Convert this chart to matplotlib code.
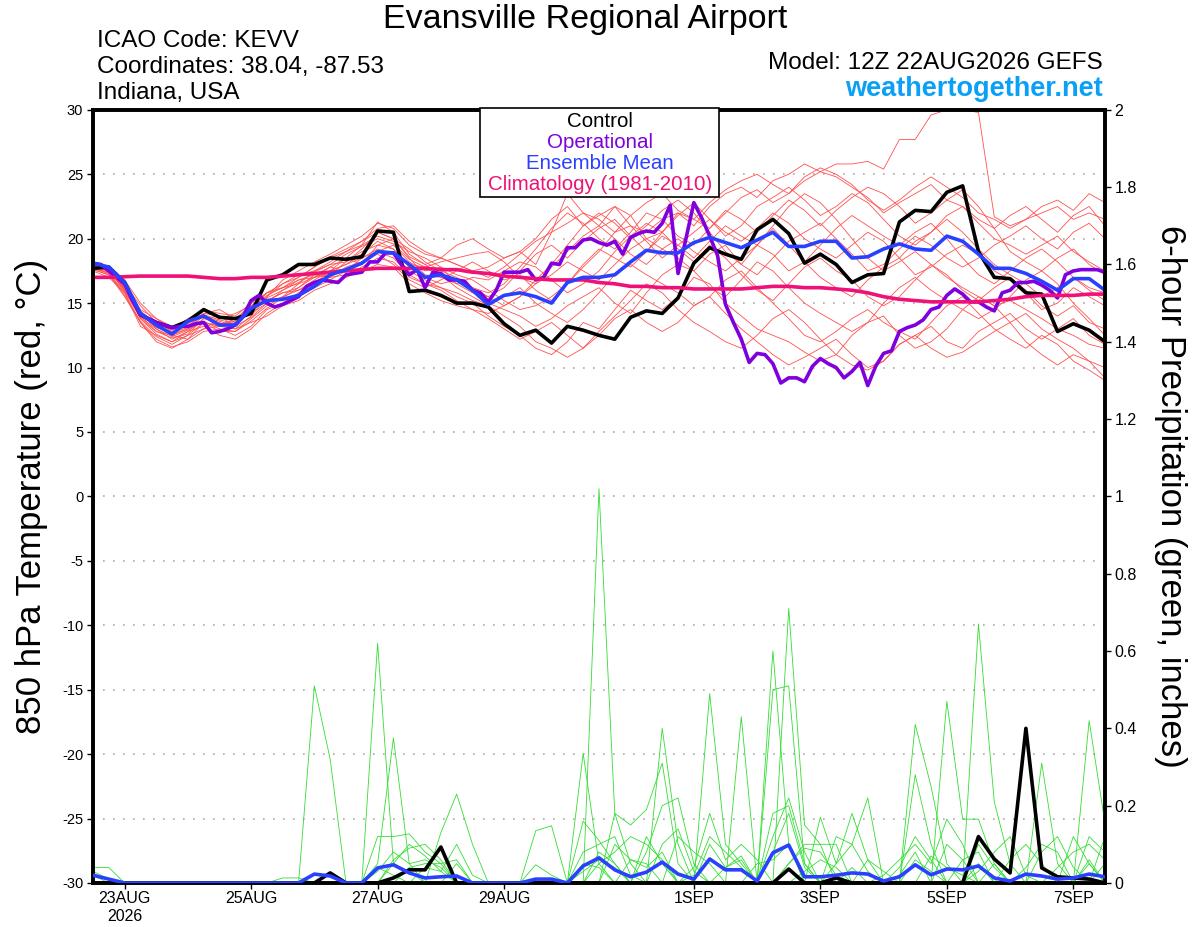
import numpy as np
import matplotlib
matplotlib.use("Agg")
import matplotlib.pyplot as plt
from matplotlib.patches import Rectangle

plt.rcParams['font.family'] = ['Liberation Sans', 'DejaVu Sans']
plt.rcParams['axes.unicode_minus'] = False

# 6-hourly steps from 12Z 22AUG2026 (hours), operational run is 3-hourly
hours = np.arange(65) * 6
op_hours = np.arange(129) * 3

tick_hours = [12, 60, 108, 156, 228, 276, 324, 372]
tick_labels = ["23AUG\n2026", "25AUG", "27AUG", "29AUG", "1SEP", "3SEP", "5SEP", "7SEP"]

# 850 hPa temperature (C)
control_t = [17.7, 17.8, 16.6, 14.1, 13.5, 13.1, 13.6, 14.5, 13.9, 13.8, 14.2, 16.8, 17.2,
             18.0, 18.0, 18.5, 18.4, 18.6, 20.6, 20.5, 15.9, 16.0, 15.6, 15.0, 15.0, 14.7,
             13.4, 12.5, 12.9, 11.9, 13.2, 12.9, 12.5, 12.2, 13.9, 14.4, 14.2, 15.4, 18.1,
             19.3, 18.8, 18.4, 20.7, 21.5, 20.4, 18.1, 18.8, 18.0, 16.6, 17.2, 17.3, 21.3,
             22.2, 22.1, 23.6, 24.1, 19.0, 17.0, 16.9, 15.8, 15.7, 12.8, 13.4, 12.9, 12.0]

mean_t = [18.1, 17.8, 16.6, 14.2, 13.3, 12.6, 13.6, 14.0, 13.3, 13.3, 14.6, 15.2, 15.3,
          15.6, 16.3, 17.2, 17.6, 18.1, 19.0, 18.9, 18.0, 17.0, 17.2, 16.8, 16.0, 14.9,
          15.6, 15.8, 15.5, 15.0, 16.6, 17.0, 17.0, 17.2, 18.2, 19.1, 18.9, 18.9, 19.7,
          20.1, 19.7, 19.3, 19.9, 20.5, 19.4, 19.4, 19.8, 19.8, 18.5, 18.6, 19.2, 19.6,
          19.2, 19.1, 20.2, 19.8, 18.8, 17.7, 17.7, 17.3, 16.7, 16.0, 16.9, 16.9, 16.0]

clim_t = [17.0, 17.0, 17.05, 17.1, 17.1, 17.1, 17.1, 17.0, 16.9, 16.9, 17.0, 17.0, 17.1,
          17.2, 17.3, 17.4, 17.5, 17.6, 17.7, 17.7, 17.7, 17.7, 17.6, 17.6, 17.4, 17.3,
          17.1, 17.0, 16.9, 16.8, 16.8, 16.8, 16.6, 16.5, 16.3, 16.3, 16.2, 16.2, 16.1,
          16.1, 16.1, 16.1, 16.2, 16.3, 16.3, 16.2, 16.2, 16.1, 16.0, 15.8, 15.5, 15.3,
          15.2, 15.1, 15.1, 15.1, 15.1, 15.2, 15.3, 15.5, 15.6, 15.6, 15.6, 15.7, 15.7]

oper_t = [18.1, 18.0, 17.5, 17.0, 16.5, 15.2, 14.1, 13.8, 13.5, 13.3, 13.1, 13.2, 13.2,
          13.4, 13.5, 12.7, 12.8, 13.0, 13.3, 14.0, 15.2, 15.6, 15.0, 14.7, 14.9, 15.2,
          15.5, 16.3, 16.6, 16.8, 16.7, 16.6, 17.2, 17.3, 17.4, 18.2, 18.2, 18.9, 18.9,
          18.0, 17.2, 17.6, 16.2, 17.4, 17.3, 16.8, 16.8, 16.7, 16.0, 15.8, 15.1, 16.0,
          17.4, 17.4, 17.4, 17.6, 16.8, 17.0, 18.1, 18.0, 19.3, 19.3, 19.9, 20.0, 19.7,
          19.5, 19.8, 18.8, 20.1, 20.4, 20.6, 20.5, 21.2, 22.6, 17.3, 20.0, 22.8, 21.6,
          20.2, 18.7, 14.9, 13.5, 12.2, 10.4, 11.1, 11.0, 10.3, 8.8, 9.2, 9.2, 8.9,
          10.1, 10.7, 10.3, 10.0, 9.2, 9.7, 10.4, 8.6, 10.1, 11.1, 11.3, 12.8, 13.1,
          13.3, 13.7, 14.5, 14.7, 15.6, 16.1, 15.7, 15.1, 15.1, 14.7, 14.4, 15.8, 16.0,
          16.6, 16.6, 16.7, 16.4, 16.0, 15.4, 17.2, 17.5, 17.6, 17.6, 17.6, 17.4]

# ensemble members, temperature
t_m01 = [18.0, 17.6, 16.0, 13.8, 12.8, 12.5, 13.0, 14.0, 13.6, 13.2, 14.5,
         15.8, 16.5, 17.0, 17.8, 18.6, 19.2, 19.8, 20.5, 20.0, 18.6,
         18.0, 18.5, 19.5, 20.0, 19.2, 18.5, 19.0, 20.0, 21.5, 22.5,
         21.0, 21.8, 22.5, 21.0, 20.5, 21.5, 22.0, 21.0, 22.5, 23.5,
         24.0, 23.2, 24.5, 25.0, 25.8, 25.2, 25.8,
         25.8, 26.0, 25.4, 27.7, 27.7, 29.6, 30.0, 30.0, 29.8,
         21.7, 21.0, 21.5, 22.0, 22.5, 21.5, 22.0, 21.5]
t_m02 = [17.8, 17.5, 16.2, 14.3, 13.0, 12.2, 12.8, 13.8, 13.5, 13.0, 14.0,
         15.5, 16.8, 17.5, 18.2, 18.8, 19.5, 20.2, 21.2, 20.8, 19.5,
         18.8, 18.5, 18.0, 17.5, 17.8, 18.5, 19.0, 18.0, 20.5, 23.5,
         22.0, 21.0, 22.5, 21.8, 20.0, 20.5, 22.0, 21.5, 20.8, 22.0,
         23.2, 23.8, 22.8, 23.5, 24.5, 25.2, 24.8, 24.0, 23.2, 22.0,
         22.8, 23.5, 24.2, 23.0, 22.5, 21.5, 20.8, 21.8, 22.5, 21.5,
         20.5, 21.8, 22.5, 21.0]
t_m03 = [17.6, 17.2, 15.5, 13.5, 12.2, 11.6, 12.0, 12.8, 13.0, 12.5, 13.2,
         14.5, 15.0, 15.8, 16.5, 17.0, 17.2, 17.8, 18.5, 18.2, 17.0,
         16.5, 16.2, 15.5, 15.0, 14.0, 13.2, 12.5, 11.5, 11.0, 12.0,
         13.5, 13.0, 14.5, 16.0, 15.2, 14.5, 15.5, 17.0, 16.5, 15.0,
         14.0, 13.0, 12.5, 12.0, 11.2, 10.5, 11.0, 12.5, 13.5, 14.0,
         12.5, 11.5, 12.0, 13.0, 14.5, 15.5, 14.8, 13.5, 12.0, 11.0,
         10.2, 11.0, 10.5, 9.2]
t_m04 = [18.2, 17.8, 16.5, 14.8, 13.5, 12.8, 13.2, 14.2, 14.5, 13.8, 14.8,
         15.2, 15.8, 16.2, 17.0, 17.8, 18.5, 18.0, 19.0, 19.5, 18.2,
         17.5, 17.8, 17.2, 16.8, 16.0, 15.2, 14.5, 14.8, 15.5, 16.5,
         17.8, 19.0, 20.5, 21.0, 19.8, 18.5, 19.5, 20.5, 21.5, 20.5,
         19.8, 20.8, 22.0, 21.2, 20.0, 19.2, 18.5, 19.5, 20.5, 19.8,
         18.5, 17.2, 17.8, 18.8, 19.5, 18.8, 17.5, 16.8, 15.8, 14.5,
         15.0, 16.2, 15.5, 14.8]
t_m05 = [17.5, 17.0, 15.8, 13.2, 12.5, 12.0, 12.5, 13.5, 12.8, 12.8, 13.8,
         14.8, 15.5, 16.0, 16.8, 17.5, 18.0, 18.8, 19.8, 19.2, 17.8,
         17.0, 16.5, 16.8, 16.0, 15.0, 14.5, 14.0, 13.2, 13.8, 14.8,
         15.5, 16.2, 15.0, 14.2, 15.8, 17.2, 18.0, 17.5, 16.2, 15.5,
         16.8, 18.2, 17.5, 16.2, 15.0, 14.2, 13.5, 12.8, 13.5, 15.0,
         16.2, 17.0, 16.0, 15.2, 14.5, 13.8, 14.5, 15.5, 16.8, 17.5,
         16.5, 15.0, 13.8, 12.5]
t_m06 = [18.0, 17.4, 16.2, 14.0, 13.2, 12.5, 12.2, 13.0, 13.8, 14.2, 14.8,
         15.8, 16.2, 16.8, 17.2, 17.0, 17.8, 18.2, 18.8, 18.0, 16.8,
         16.2, 16.8, 17.5, 18.2, 17.5, 16.8, 17.2, 16.0, 15.2, 16.5,
         18.0, 19.2, 18.5, 17.8, 19.0, 20.2, 19.5, 18.5, 19.8, 21.0,
         20.2, 19.5, 18.8, 17.5, 18.2, 19.5, 20.8, 21.8, 21.0, 20.2,
         19.5, 20.5, 21.2, 20.0, 18.5, 17.2, 16.5, 17.5, 18.5, 19.2,
         18.2, 17.0, 16.2, 15.8]
t_m07 = [17.8, 17.6, 16.0, 13.8, 12.6, 12.0, 12.8, 13.2, 12.5, 12.2, 13.0,
         14.2, 15.0, 15.5, 16.2, 16.8, 17.5, 18.5, 19.2, 18.8, 17.5,
         16.8, 16.2, 15.8, 15.2, 14.8, 15.5, 16.2, 15.0, 14.2, 13.5,
         14.5, 15.8, 17.2, 18.0, 17.2, 16.5, 15.8, 14.8, 15.5, 16.8,
         17.5, 16.2, 15.0, 13.8, 12.5, 12.0, 12.8, 13.8, 14.5, 13.5,
         12.8, 12.2, 13.5, 14.8, 15.5, 14.2, 13.0, 12.2, 11.5, 12.5,
         11.8, 10.5, 9.8, 9.0]
t_m08 = [18.0, 17.7, 16.4, 14.5, 13.8, 13.2, 13.5, 14.2, 14.0, 13.5, 14.2,
         15.5, 16.5, 17.2, 17.5, 18.2, 19.0, 19.5, 20.2, 19.8, 19.0,
         18.5, 17.8, 16.5, 15.8, 15.5, 16.2, 17.5, 18.8, 19.5, 18.5,
         19.8, 20.8, 21.5, 20.2, 19.0, 20.5, 21.8, 22.8, 21.5, 20.2,
         21.0, 22.5, 23.2, 24.0, 23.0, 21.8, 22.5, 23.5, 22.8, 21.5,
         20.2, 19.5, 20.5, 21.8, 22.5, 21.2, 20.0, 19.5, 18.8, 19.5,
         20.2, 19.0, 18.2, 17.5]
t_m09 = [17.6, 17.2, 15.8, 13.5, 12.0, 11.5, 12.2, 13.5, 13.2, 13.0, 13.5,
         14.0, 14.8, 15.2, 16.0, 16.5, 17.0, 17.5, 18.0, 17.8, 16.5,
         15.8, 15.2, 14.8, 14.5, 13.8, 13.0, 12.2, 12.8, 13.5, 12.5,
         11.5, 12.5, 13.8, 14.5, 13.5, 12.8, 13.5, 14.8, 15.5, 14.2,
         13.0, 12.0, 11.0, 10.2, 10.8, 11.5, 12.2, 11.0, 10.0, 10.5,
         11.8, 12.5, 13.2, 12.0, 11.5, 12.8, 13.5, 14.2, 13.0, 12.2,
         13.0, 13.8, 12.5, 11.8]
t_m10 = [18.1, 17.8, 16.8, 15.0, 13.8, 13.0, 13.8, 14.5, 14.2, 14.0, 15.0,
         15.8, 16.2, 16.5, 17.5, 18.0, 18.2, 19.0, 19.5, 19.2, 18.0,
         17.8, 18.2, 18.5, 18.8, 19.0, 18.2, 17.0, 16.5, 17.2, 18.2,
         17.5, 16.8, 18.0, 19.2, 20.0, 19.2, 18.5, 17.5, 18.8, 19.5,
         18.0, 17.2, 18.5, 19.8, 20.5, 21.2, 20.0, 18.8, 17.5, 18.0,
         19.2, 20.2, 19.5, 18.5, 17.8, 18.5, 19.5, 20.2, 21.0, 20.0,
         19.2, 20.5, 21.2, 20.0]
t_m11 = [17.7, 17.3, 15.6, 13.6, 12.4, 11.8, 12.5, 13.0, 13.2, 13.5, 14.2,
         15.0, 15.5, 16.5, 17.0, 17.2, 18.2, 19.2, 20.5, 20.0, 18.5,
         17.2, 17.0, 16.5, 17.0, 16.8, 17.5, 18.2, 17.8, 16.8, 15.8,
         16.5, 17.5, 19.0, 20.2, 21.2, 20.5, 19.2, 18.2, 19.5, 18.5,
         17.2, 16.0, 15.2, 16.5, 17.8, 18.5, 17.5, 16.8, 15.5, 14.8,
         15.5, 16.8, 18.0, 17.2, 16.0, 15.2, 16.2, 17.0, 16.0, 14.8,
         14.0, 14.8, 13.5, 13.0]
t_m12 = [18.2, 17.6, 16.2, 14.2, 13.2, 12.6, 13.0, 13.5, 13.2, 13.8, 14.5,
         15.2, 15.8, 16.0, 16.5, 17.5, 18.0, 18.5, 19.0, 18.5, 17.2,
         16.5, 16.0, 15.2, 14.5, 14.2, 14.8, 15.5, 16.5, 17.8, 19.0,
         20.2, 21.0, 20.0, 18.8, 18.0, 19.2, 20.0, 19.0, 18.2, 17.5,
         18.5, 19.5, 20.8, 19.5, 18.2, 17.0, 16.2, 15.5, 16.8, 17.8,
         18.5, 19.8, 20.5, 21.5, 20.5, 19.2, 18.0, 17.2, 16.5, 15.5,
         16.2, 17.0, 16.0, 15.2]
t_m13 = [17.9, 17.5, 16.0, 13.9, 13.0, 12.4, 12.9, 13.6, 13.0, 12.8, 13.6,
         14.6, 15.4, 16.2, 17.2, 17.8, 17.5, 18.0, 19.5, 20.0, 19.2,
         18.2, 17.5, 17.0, 16.2, 15.5, 14.8, 15.5, 16.8, 18.0, 19.5,
         21.0, 22.0, 21.2, 20.0, 21.0, 22.2, 23.0, 22.0, 20.5, 19.0,
         18.0, 19.5, 21.0, 22.5, 23.5, 22.8, 21.5, 20.0, 18.5, 17.5,
         18.2, 19.0, 18.0, 17.0, 16.2, 15.5, 14.8, 15.2, 14.5, 13.8,
         13.0, 12.5, 11.8, 11.5]
t_m14 = [17.8, 17.3, 15.9, 14.0, 12.8, 12.3, 12.6, 13.8, 14.0, 13.2, 13.9,
         15.0, 16.0, 16.8, 17.0, 17.5, 18.5, 19.5, 21.3, 20.5, 18.8,
         18.0, 17.2, 16.2, 15.5, 14.8, 14.0, 13.2, 12.0, 11.5, 10.8,
         11.5, 12.8, 14.0, 15.2, 16.5, 15.8, 14.5, 13.5, 12.8, 12.0,
         11.5, 12.5, 13.8, 14.5, 13.5, 12.2, 11.0, 10.2, 9.8, 10.5,
         11.8, 12.5, 11.5, 10.8, 11.2, 12.0, 12.8, 13.5, 14.2, 13.0,
         12.2, 11.5, 10.5, 10.0]
t_m15 = [18.0, 17.5, 16.3, 14.4, 13.4, 12.9, 13.4, 14.0, 13.4, 13.6, 14.6,
         15.6, 16.2, 17.0, 17.8, 18.5, 19.0, 19.8, 20.8, 21.0, 19.8,
         19.0, 18.5, 18.0, 17.5, 17.0, 17.8, 18.8, 19.8, 20.5, 21.2,
         22.0, 21.5, 20.5, 21.8, 22.8, 23.5, 22.2, 21.5, 22.8, 23.8,
         24.5, 25.0, 24.2, 23.5, 24.8, 25.5, 25.0, 24.2, 23.0, 22.2,
         23.0, 24.0, 24.8, 24.0, 23.2, 22.0, 21.5, 20.8, 21.5, 22.5,
         23.0, 22.2, 23.5, 22.8]
t_m16 = [17.7, 17.4, 16.1, 14.1, 13.1, 12.7, 13.1, 14.1, 13.7, 13.4, 14.4,
         15.4, 16.0, 16.6, 17.4, 18.0, 18.8, 19.4, 20.0, 19.6, 18.4,
         17.8, 17.0, 16.8, 16.2, 15.8, 16.5, 17.8, 19.2, 20.8, 22.0,
         21.2, 20.0, 19.2, 20.5, 22.0, 21.5, 20.2, 19.5, 20.8, 22.2,
         21.5, 20.5, 21.8, 23.0, 22.2, 21.0, 22.2, 23.2, 24.0, 23.5,
         22.5, 21.2, 22.0, 23.0, 23.8, 22.5, 20.8, 19.0, 18.2, 17.5,
         18.5, 19.2, 18.0, 17.2]
members_t = [t_m01, t_m02, t_m03, t_m04, t_m05, t_m06, t_m07, t_m08,
             t_m09, t_m10, t_m11, t_m12, t_m13, t_m14, t_m15, t_m16]

# 6-hour precipitation (inches): control and ensemble mean
control_p = [0, 0, 0, 0, 0, 0, 0, 0, 0, 0, 0, 0, 0,
             0, 0, 0.026, 0, 0, 0, 0.013, 0.034, 0.034, 0.093, 0, 0, 0,
             0, 0, 0, 0, 0, 0, 0, 0, 0, 0, 0, 0, 0,
             0, 0, 0, 0, 0, 0.036, 0, 0, 0.013, 0, 0, 0, 0,
             0, 0, 0, 0, 0.12, 0.062, 0.026, 0.40, 0.039, 0.016, 0.013, 0.01, 0]
mean_p = [0.02, 0.01, 0, 0, 0, 0, 0, 0, 0, 0, 0, 0, 0,
          0, 0.023, 0.018, 0, 0, 0.039, 0.047, 0.026, 0.013, 0.016, 0.018, 0, 0,
          0, 0, 0.01, 0.01, 0, 0.044, 0.065, 0.034, 0.016, 0.028, 0.054, 0.023, 0.010,
          0.062, 0.034, 0.034, 0.005, 0.078, 0.098, 0.016, 0.016, 0.02, 0.026, 0.023, 0.005, 0.016,
          0.047, 0.021, 0.036, 0.034, 0.044, 0.013, 0.005, 0.023, 0.018, 0.010, 0.013, 0.023, 0.016]

# ensemble members, precipitation (step: amount, all other steps dry)
p_m01 = {0: 0.04, 1: 0.04, 14: 0.51, 15: 0.32, 32: 1.02, 33: 0.18, 34: 0.05,
         43: 0.60, 44: 0.10, 52: 0.41, 53: 0.25, 54: 0.05, 56: 0.05}
p_m02 = {0: 0.03, 1: 0.01, 18: 0.62, 19: 0.05, 20: 0.03, 28: 0.135, 29: 0.148,
         36: 0.40, 37: 0.10, 44: 0.71, 45: 0.15, 46: 0.10, 56: 0.67, 57: 0.21,
         58: 0.05, 63: 0.05}
p_m03 = {18: 0.05, 19: 0.375, 20: 0.05, 22: 0.13, 23: 0.23, 24: 0.10, 31: 0.335,
         32: 0.05, 39: 0.49, 40: 0.10, 41: 0.05, 47: 0.05, 48: 0.10, 49: 0.22,
         60: 0.31, 61: 0.05}
p_m04 = {12: 0.013, 13: 0.013, 18: 0.12, 19: 0.12, 20: 0.127, 21: 0.08, 22: 0.05,
         31: 0.16, 32: 0.11, 33: 0.05, 41: 0.43, 43: 0.50, 44: 0.51, 45: 0.05,
         54: 0.47, 55: 0.165, 56: 0.165, 57: 0.05, 63: 0.42, 64: 0.155}
p_m05 = {19: 0.05, 20: 0.10, 21: 0.07, 22: 0.03, 23: 0.10, 24: 0.02, 33: 0.18,
         34: 0.15, 35: 0.19, 36: 0.31, 37: 0.05, 43: 0.18, 44: 0.20, 45: 0.05,
         52: 0.28, 53: 0.10, 62: 0.12, 63: 0.05}
p_m06 = {18: 0.03, 19: 0.08, 20: 0.05, 21: 0.06, 22: 0.04, 28: 0.047, 29: 0.02,
         31: 0.05, 32: 0.04, 35: 0.08, 36: 0.20, 37: 0.22, 38: 0.05, 46: 0.17,
         47: 0.05, 48: 0.18, 49: 0.06, 59: 0.04, 60: 0.10, 61: 0.08}
p_m07 = {19: 0.06, 20: 0.09, 21: 0.10, 22: 0.06, 33: 0.10, 34: 0.06, 35: 0.05,
         38: 0.04, 39: 0.18, 40: 0.06, 41: 0.10, 42: 0.06, 44: 0.05, 45: 0.10,
         46: 0.10, 47: 0.10, 50: 0.02, 51: 0.06, 52: 0.10, 53: 0.05, 54: 0.165,
         55: 0.10, 57: 0.05, 64: 0.05}
p_m08 = {20: 0.04, 21: 0.05, 22: 0.05, 23: 0.06, 32: 0.05, 33: 0.08, 34: 0.12,
         35: 0.10, 36: 0.06, 40: 0.04, 41: 0.07, 43: 0.08, 44: 0.18, 45: 0.04,
         47: 0.12, 48: 0.10, 49: 0.03, 55: 0.06, 56: 0.08, 61: 0.04, 62: 0.08,
         63: 0.10, 64: 0.06}
p_m09 = {18: 0.04, 19: 0.02, 23: 0.05, 31: 0.08, 32: 0.10, 33: 0.12, 34: 0.02,
         37: 0.12, 38: 0.08, 39: 0.05, 43: 0.12, 44: 0.22, 45: 0.08, 48: 0.04,
         51: 0.04, 52: 0.12, 53: 0.06, 56: 0.03, 57: 0.08, 58: 0.12, 59: 0.02,
         63: 0.06}
p_m10 = {31: 0.03, 32: 0.06, 33: 0.04, 35: 0.12, 36: 0.05, 39: 0.10, 40: 0.04,
         41: 0.06, 44: 0.05, 45: 0.09, 46: 0.08, 47: 0.02, 53: 0.07, 54: 0.04,
         55: 0.02, 60: 0.08, 61: 0.12, 62: 0.04}
p_m11 = {0: 0.02, 21: 0.04, 22: 0.03, 32: 0.08, 33: 0.05, 36: 0.10, 37: 0.14,
         38: 0.03, 42: 0.05, 43: 0.06, 44: 0.10, 49: 0.06, 50: 0.03, 52: 0.06,
         53: 0.03, 56: 0.10, 57: 0.04, 63: 0.12, 64: 0.08}
p_m12 = {34: 0.06, 35: 0.04, 36: 0.08, 38: 0.02, 39: 0.12, 40: 0.08, 41: 0.04,
         45: 0.03, 46: 0.06, 47: 0.04, 51: 0.02, 52: 0.08, 54: 0.10, 55: 0.06,
         58: 0.06, 59: 0.10, 60: 0.05, 64: 0.12}
members_p = [p_m01, p_m02, p_m03, p_m04, p_m05, p_m06,
             p_m07, p_m08, p_m09, p_m10, p_m11, p_m12]

fig = plt.figure(figsize=(12, 9.27), dpi=100)
ax = fig.add_axes([0.0775, 0.0475, 0.8433, 0.834])
ax2 = ax.twinx()

for m in members_t:
    ax.plot(hours, m, color="#ff5050", lw=0.6, zorder=2)

ax.plot(hours, control_t, color="black", lw=2.6, zorder=4)
ax.plot(op_hours, oper_t, color="#7f00dd", lw=2.6, zorder=4)
ax.plot(hours, clim_t, color="#ee1177", lw=2.6, zorder=5)
ax.plot(hours, mean_t, color="#2a40ff", lw=2.6, zorder=5)

for m in members_p:
    vals = np.zeros(len(hours))
    for k, v in m.items():
        vals[k] = v
    ax2.plot(hours, vals, color="#33dd33", lw=0.6, zorder=2)

ax2.plot(hours, control_p, color="black", lw=2.6, zorder=4)
ax2.plot(hours, mean_p, color="#2a40ff", lw=2.6, zorder=5)

ax.set_xlim(0, 384)
ax.set_ylim(-30, 30)
ax2.set_ylim(0, 2)

ax.set_yticks(range(-30, 31, 5))
ax2.set_yticks(np.arange(0, 2.01, 0.2))
ax2.set_yticklabels(["%g" % v for v in np.arange(0, 2.01, 0.2).round(1)])
ax.set_xticks(tick_hours)
ax.set_xticklabels(tick_labels)

for y in range(-25, 30, 5):
    ax.axhline(y, color="#aaaaaa", lw=1.2, ls=(0, (1, 5)), zorder=1)

for a in (ax, ax2):
    for s in a.spines.values():
        s.set_linewidth(2.6)
ax.tick_params(axis="y", labelsize=10.5, length=4, width=1, direction="out", pad=3)
ax.tick_params(axis="x", labelsize=11.5, length=4, width=1, direction="out", pad=2)
ax2.tick_params(axis="y", labelsize=11.5, length=4, width=1, direction="out", pad=3)

fig.text(0.0265, 0.464, "850 hPa Temperature (red, \u00b0C)", rotation=90,
         ha="center", va="center", fontsize=25)
fig.text(0.975, 0.464, "6-hour Precipitation (green, inches)", rotation=-90,
         ha="center", va="center", fontsize=25)

fig.text(0.4875, 0.979, "Evansville Regional Airport", ha="center", va="center", fontsize=24.5)
fig.text(0.081, 0.956, "ICAO Code: KEVV", ha="left", va="center", fontsize=17.5)
fig.text(0.081, 0.928, "Coordinates: 38.04, -87.53", ha="left", va="center", fontsize=17.5)
fig.text(0.081, 0.900, "Indiana, USA", ha="left", va="center", fontsize=17.5)
fig.text(0.919, 0.932, "Model: 12Z 22AUG2026 GEFS", ha="right", va="center", fontsize=17.5)
fig.text(0.919, 0.904, "weathertogether.net", ha="right", va="center", fontsize=19.5,
         fontweight="bold", color="#0aa0f5")

# legend box
fig.patches.append(Rectangle((0.4, 0.7875), 0.1992, 0.0955, transform=fig.transFigure,
                             facecolor="white", edgecolor="black", lw=1.2, zorder=3))
leg_items = [("Control", "black"), ("Operational", "#7f00dd"),
             ("Ensemble Mean", "#2a40ff"), ("Climatology (1981-2010)", "#ee1177")]
for n, (txt, col) in enumerate(leg_items):
    fig.text(0.5, 0.869 - n * 0.0228, txt, ha="center", va="center",
             fontsize=14.8, color=col, zorder=4)

fig.savefig("out.png", dpi=100)
